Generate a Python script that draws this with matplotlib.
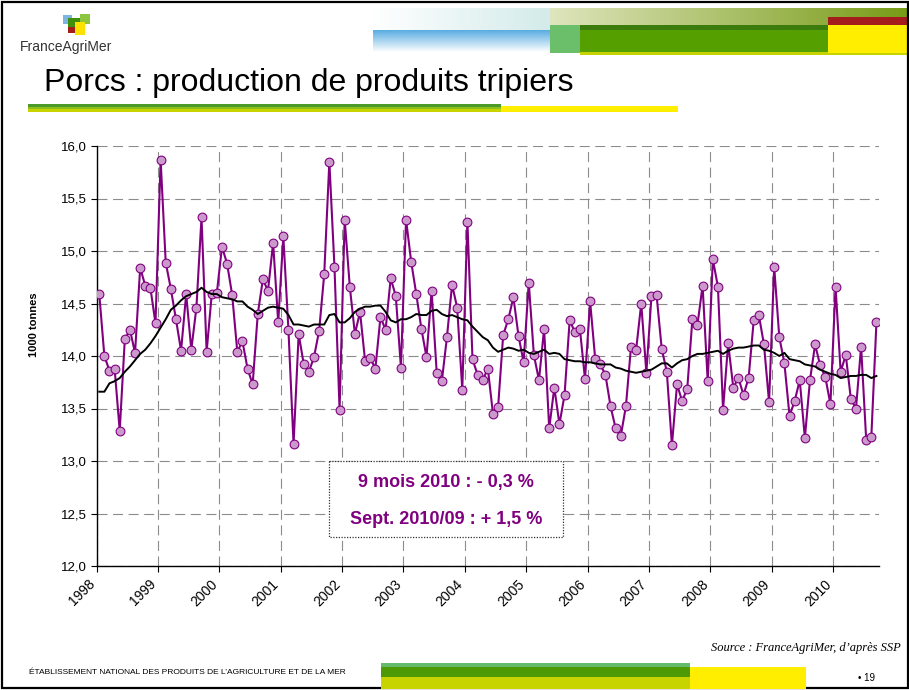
import numpy as np
import matplotlib
matplotlib.use("Agg")
import matplotlib.pyplot as plt
from matplotlib.patches import Rectangle
from matplotlib.ticker import FuncFormatter
from matplotlib.transforms import ScaledTranslation

plt.rcParams['font.family'] = ['Liberation Sans', 'DejaVu Sans']

# ---------------- data ----------------
years = ['1998', '1999', '2000', '2001', '2002', '2003', '2004',
         '2005', '2006', '2007', '2008', '2009', '2010']

production = [
    14.59, 14.00, 13.86, 13.88, 13.29, 14.16, 14.25, 14.03, 14.84, 14.67, 14.65, 14.31,  # 1998
    15.87, 14.89, 14.64, 14.35, 14.05, 14.59, 14.06, 14.46, 15.32, 14.04, 14.59, 14.60,  # 1999
    15.04, 14.88, 14.58, 14.04, 14.14, 13.88, 13.73, 14.40, 14.73, 14.62, 15.08, 14.32,  # 2000
    15.14, 14.25, 13.16, 14.21, 13.92, 13.85, 13.99, 14.24, 14.78, 15.85, 14.85, 13.49,  # 2001
    15.30, 14.66, 14.21, 14.42, 13.95, 13.98, 13.88, 14.37, 14.25, 14.74, 14.57, 13.89,  # 2002
    15.30, 14.90, 14.59, 14.26, 13.99, 14.62, 13.84, 13.76, 14.18, 14.68, 14.46, 13.68,  # 2003
    15.28, 13.97, 13.82, 13.77, 13.88, 13.45, 13.51, 14.20, 14.35, 14.56, 14.19, 13.94,  # 2004
    14.70, 14.01, 13.77, 14.26, 13.31, 13.70, 13.35, 13.63, 14.34, 14.23, 14.26, 13.78,  # 2005
    14.52, 13.97, 13.92, 13.82, 13.52, 13.31, 13.24, 13.52, 14.09, 14.06, 14.50, 13.84,  # 2006
    14.57, 14.58, 14.07, 13.85, 13.15, 13.73, 13.57, 13.69, 14.35, 14.30, 14.67, 13.76,  # 2007
    14.92, 14.66, 13.49, 14.12, 13.70, 13.79, 13.63, 13.79, 14.34, 14.39, 14.11, 13.56,  # 2008
    14.85, 14.18, 13.93, 13.43, 13.57, 13.77, 13.22, 13.77, 14.11, 13.91, 13.80, 13.54,  # 2009
    14.66, 13.85, 14.01, 13.59, 13.50, 14.09, 13.20, 13.23, 14.32,                       # 2010
]

moyenne_mobile = [
    13.66, 13.66, 13.74, 13.76, 13.79, 13.85, 13.90, 13.96, 14.02, 14.06, 14.12, 14.19,
    14.27, 14.35, 14.44, 14.48, 14.53, 14.57, 14.59, 14.61, 14.65, 14.61, 14.59, 14.59,
    14.56, 14.55, 14.54, 14.52, 14.52, 14.47, 14.44, 14.40, 14.43, 14.46, 14.47, 14.46,
    14.45, 14.39, 14.30, 14.30, 14.29, 14.28, 14.30, 14.30, 14.30, 14.39, 14.40, 14.32,
    14.32, 14.36, 14.42, 14.45, 14.47, 14.47, 14.48, 14.48, 14.42, 14.34, 14.32, 14.35,
    14.35, 14.37, 14.40, 14.39, 14.39, 14.43, 14.44, 14.40, 14.38, 14.39, 14.37, 14.35,
    14.34, 14.28, 14.23, 14.18, 14.15, 14.08, 14.04, 14.06, 14.08, 14.07, 14.05, 14.06,
    14.03, 14.02, 14.04, 14.06, 14.02, 14.03, 14.02, 13.97, 13.96, 13.95, 13.95, 13.94,
    13.94, 13.93, 13.92, 13.92, 13.92, 13.89, 13.88, 13.86, 13.85, 13.84, 13.85, 13.86,
    13.87, 13.90, 13.93, 13.93, 13.89, 13.93, 13.96, 13.97, 14.00, 14.02, 14.02, 14.03,
    14.04, 14.05, 14.02, 14.05, 14.07, 14.08, 14.08, 14.09, 14.10, 14.10, 14.06, 14.05,
    14.03, 14.00, 14.03, 13.97, 13.96, 13.95, 13.92, 13.91, 13.90, 13.87, 13.85, 13.83,
    13.82, 13.79, 13.80, 13.81, 13.81, 13.82, 13.82, 13.79, 13.81,
]

title = "Porcs : production de produits tripiers"
note_lines = ["9 mois 2010 : - 0,3 %", "Sept. 2010/09 : + 1,5 %"]
source = "Source : FranceAgriMer, d\u2019apr\u00e8s SSP"
footer = "\u00c9TABLISSEMENT NATIONAL DES PRODUITS DE L\u2019AGRICULTURE ET DE LA MER"

# ---------------- figure ----------------
W, H = 909, 690
fig = plt.figure(figsize=(W / 100, H / 100), dpi=100)
fig.patch.set_facecolor('white')

# background decoration axes in pixel coords
bg = fig.add_axes([0, 0, 1, 1], zorder=0)
bg.set_xlim(0, W)
bg.set_ylim(H, 0)
bg.axis('off')


def rect(a, x0, y0, x1, y1, color, z=1, **kw):
    a.add_patch(Rectangle((x0, y0), x1 - x0, y1 - y0, facecolor=color,
                          edgecolor='none', zorder=z, **kw))


def hgrad(a, x0, y0, x1, y1, c0, c1, z=1):
    c0 = np.array(matplotlib.colors.to_rgb(c0))
    c1 = np.array(matplotlib.colors.to_rgb(c1))
    t = np.linspace(0, 1, 256)[None, :, None]
    img = c0 + (c1 - c0) * t
    a.imshow(img, extent=(x0, x1, y1, y0), aspect='auto', zorder=z,
             interpolation='bilinear')


def vgrad(a, x0, y0, x1, y1, c0, c1, z=1):
    c0 = np.array(matplotlib.colors.to_rgb(c0))
    c1 = np.array(matplotlib.colors.to_rgb(c1))
    t = np.linspace(0, 1, 256)[:, None, None]
    img = c0 + (c1 - c0) * t
    a.imshow(img, extent=(x0, x1, y1, y0), aspect='auto', zorder=z,
             interpolation='bilinear')


# header bands
hgrad(bg, 373, 8, 550, 30, '#ffffff', '#d3ebea')
hgrad(bg, 550, 8, 909, 25, '#dfe5bd', '#779b16')
vgrad(bg, 373, 30, 550, 52, '#58ace2', '#ffffff')
rect(bg, 550, 25, 580, 53, '#6cbf6a', z=2)
rect(bg, 580, 25, 828, 30, '#3c7c0c', z=2)
rect(bg, 580, 30, 828, 52, '#55a000', z=2)
rect(bg, 580, 52, 909, 54.5, '#c6d300', z=2)
rect(bg, 828, 17, 909, 25, '#a51c1c', z=2)
rect(bg, 828, 25, 909, 53, '#ffee00', z=2)

# logo
rect(bg, 63, 15, 72, 24, '#7db4e2', z=2)
rect(bg, 80, 14, 90, 24, '#8cc63f', z=2)
rect(bg, 68, 18, 80, 31, '#3f8f0a', z=3)
rect(bg, 75, 22, 85, 35, '#ffe100', z=4)
rect(bg, 68, 27, 75, 33, '#a51c1c', z=5)
bg.text(20, 47, "FranceAgriMer", fontsize=10, color='#333333',
        ha='left', va='center', zorder=5)

# title
bg.text(44, 83, title, fontsize=23, color='black', ha='left', va='center', zorder=5)
rect(bg, 28, 104, 501, 106.5, '#4c9a2a', z=2)
rect(bg, 28, 106.5, 501, 108.5, '#8dbf1c', z=2)
rect(bg, 28, 108.5, 501, 112, '#c8d400', z=2)
rect(bg, 501, 106, 678, 112, '#ffee00', z=2)

# footer
bg.text(901, 648, source, fontsize=9, family=['Liberation Serif', 'DejaVu Serif'],
        style='italic', ha='right', va='center', zorder=5)
bg.text(29, 673, footer, fontsize=6.0, ha='left', va='center', zorder=5)
bg.text(875, 678, "\u2022 19", fontsize=7, ha='right', va='center', zorder=5)

# page frame
bg.add_patch(Rectangle((1.5, 1.5), W - 3, H - 3.5, facecolor='none',
                       edgecolor='black', linewidth=1.6, zorder=6))
rect(bg, 381, 663, 690, 667, '#66bb6a', z=7)
rect(bg, 381, 667, 690, 677, '#4d9a06', z=7)
rect(bg, 381, 677, 690, 689, '#c8d400', z=7)
rect(bg, 690, 667, 806, 689, '#ffee00', z=7)

# ---------------- main chart ----------------
left, right, top, bottom = 96.7, 879.0, 146.0, 566.0
ax = fig.add_axes([left / W, 1 - bottom / H, (right - left) / W, (bottom - top) / H],
                  zorder=2)
ax.set_facecolor('none')

n = len(production)
x = np.arange(n) + 0.5
ax.plot(x, production, color='#800080', linewidth=1.5, marker='o',
        markersize=6.3, markerfacecolor='#cc99cc', markeredgecolor='#800080',
        markeredgewidth=0.8, zorder=3)
ax.plot(np.arange(len(moyenne_mobile)) + 0.5, moyenne_mobile, color='black',
        linewidth=1.4, zorder=4)

ax.set_xlim(0, n)
ax.set_ylim(12, 16)
ax.set_yticks(np.arange(12, 16.01, 0.5))
ax.yaxis.set_major_formatter(FuncFormatter(lambda v, p: f"{v:.1f}".replace('.', ',')))
ax.set_xticks(np.arange(0, 12 * len(years), 12))
ax.set_xticklabels(years)

for s in ['top', 'right']:
    ax.spines[s].set_visible(False)
for s in ['left', 'bottom']:
    ax.spines[s].set_color('black')
    ax.spines[s].set_linewidth(1.0)

ax.grid(True, color='#8c8c8c', linewidth=0.8, linestyle=(0, (9, 5)))
ax.set_axisbelow(True)
ax.tick_params(axis='both', direction='out', length=4, width=0.8, colors='black')
ax.tick_params(axis='y', labelsize=9.5, pad=3)
ax.tick_params(axis='x', labelsize=10, pad=6)
offset = ScaledTranslation(-4 / 100, -2 / 100, fig.dpi_scale_trans)
for lab in ax.get_xticklabels():
    lab.set_rotation(45)
    lab.set_ha('right')
    lab.set_va('center')
    lab.set_rotation_mode('anchor')
    lab.set_transform(lab.get_transform() + offset)

ax.set_ylabel('1000 tonnes', fontsize=8, fontweight='bold')
ax.yaxis.set_label_coords((38.5 - left) / (right - left), (bottom - 325) / (bottom - top))

# ---------------- annotation box ----------------
ov = fig.add_axes([0, 0, 1, 1], zorder=5)
ov.set_xlim(0, W)
ov.set_ylim(H, 0)
ov.axis('off')
ov.add_patch(Rectangle((329, 461), 234, 76, facecolor='white', edgecolor='#333333',
                       linewidth=0.9, linestyle=(0, (1, 1.2))))
ov.text(446, 482, note_lines[0], fontsize=13, fontweight='bold', color='#800080',
        ha='center', va='center')
ov.text(446, 520, note_lines[1], fontsize=13, fontweight='bold', color='#800080',
        ha='center', va='center')

fig.savefig('out.png', dpi=100)
